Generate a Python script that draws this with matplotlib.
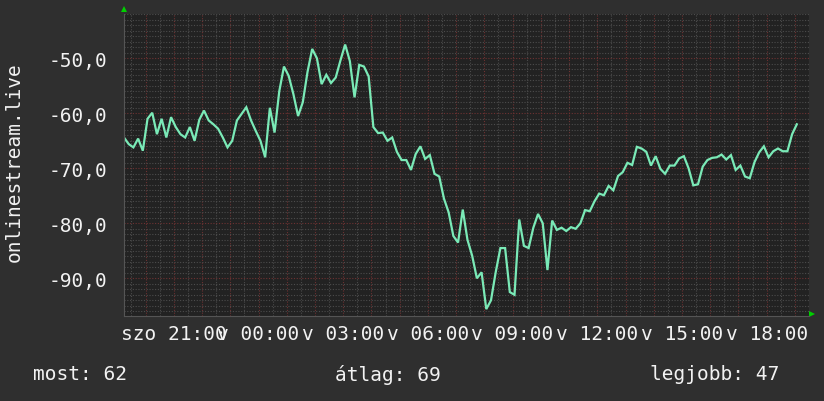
import matplotlib
matplotlib.use("Agg")
import matplotlib.pyplot as plt
import numpy as np

# ---- data ----
start_hour = 19.235          # 19:14 Saturday (hours since Saturday 00:00)
step_minutes = 10
values = [
    -64.4, -65.6, -66.2, -64.6, -66.8, -61.0, -59.9, -63.8, -61.0, -64.4,
    -60.7, -62.5, -63.8, -64.4, -62.5, -65.0, -61.2, -59.5, -61.3, -62.0,
    -62.8, -64.4, -66.2, -65.0, -61.3, -60.1, -58.9, -61.3, -63.2, -65.0,
    -68.0, -59.0, -63.5, -56.0, -51.5, -53.2, -56.5, -60.5, -58.0, -52.5,
    -48.3, -50.0, -54.7, -53.0, -54.5, -53.5, -50.4, -47.5, -50.5, -57.1,
    -51.2, -51.5, -53.3, -62.5, -63.6, -63.5, -65.0, -64.4, -67.0, -68.5,
    -68.5, -70.3, -67.4, -66.0, -68.3, -67.6, -71.0, -71.5, -75.5, -78.0,
    -82.3, -83.5, -77.5, -83.0, -85.9, -90.0, -88.9, -95.6, -94.0, -88.9,
    -84.5, -84.5, -92.5, -93.0, -79.3, -84.1, -84.5, -80.8, -78.3, -80.0,
    -88.5, -79.5, -81.2, -80.8, -81.4, -80.7, -81.0, -80.0, -77.6, -77.8,
    -76.0, -74.6, -74.9, -73.2, -74.0, -71.4, -70.7, -69.0, -69.4, -66.1,
    -66.4, -67.0, -69.5, -67.8, -70.1, -71.0, -69.5, -69.5, -68.2, -67.8,
    -70.0, -73.1, -72.9, -69.7, -68.5, -68.1, -68.0, -67.5, -68.4, -67.6,
    -70.3, -69.5, -71.5, -71.8, -68.9, -67.1, -66.0, -68.0, -66.9, -66.4,
    -66.9, -66.9, -63.8, -62.0,
]
x_label_hours = [21, 24, 27, 30, 33, 36, 39, 42]
x_labels = ["szo 21:00", "v 00:00", "v 03:00", "v 06:00", "v 09:00",
            "v 12:00", "v 15:00", "v 18:00"]
y_ticks = [-90, -80, -70, -60, -50]
y_title = "onlinestream.live"
legend_texts = ["most: 62", "átlag: 69", "legjobb: 47"]

# ---- style ----
FIG_BG = "#2f2f2f"
AX_BG = "#222222"
LINE_C = "#7aeab7"
TXT_C = "#f2f2f2"
MAJ_C = "#6e3232"
MIN_C = "#4c4c4c"
FONT = "DejaVu Sans Mono"
FS = 14

t = start_hour + np.arange(len(values)) * step_minutes / 60.0

fig = plt.figure(figsize=(8.24, 4.02), dpi=100, facecolor=FIG_BG)
W, H = 824, 402
L, R, T, B = 124, 809, 15, 316.5
ax = fig.add_axes([L / W, 1 - B / H, (R - L) / W, (B - T) / H])
ax.set_facecolor(AX_BG)

ax.set_xlim(start_hour, start_hour + 24)
ax.set_ylim(-96.76, -41.95)

# grid
hours = np.arange(20, 44)
half = np.arange(19.5, 43.6, 1.0)
ax.set_xticks(hours)
ax.set_xticks(half, minor=True)
ax.set_yticks(y_ticks)
ax.set_yticks(np.arange(-96, -41, 1), minor=True)
ax.grid(which="major", color=MAJ_C, linestyle=(0, (1, 1.5)), linewidth=0.8)
ax.grid(which="minor", color=MIN_C, linestyle=(0, (1, 1.5)), linewidth=0.8)
ax.set_axisbelow(True)

lbl = {h: s for h, s in zip(x_label_hours, x_labels)}
ax.set_xticklabels([lbl.get(int(h), "") for h in hours])
ax.set_yticklabels([f"{v:.1f}".replace(".", ",") for v in y_ticks])
ax.tick_params(which="both", length=0)
ax.tick_params(axis="x", pad=6, colors=TXT_C, labelsize=FS)
ax.tick_params(axis="y", pad=12, colors=TXT_C, labelsize=FS)
for lab in ax.get_xticklabels() + ax.get_yticklabels():
    lab.set_fontfamily(FONT)

for s in ["top", "right"]:
    ax.spines[s].set_visible(False)
for s in ["left", "bottom"]:
    ax.spines[s].set_color("#555555")
    ax.spines[s].set_linewidth(0.8)

ax.plot(t, values, color=LINE_C, linewidth=1.6, solid_joinstyle="miter")

# arrows
ax.plot([0], [1.015], marker="^", color="#00d000", markersize=5,
        transform=ax.transAxes, clip_on=False, markeredgewidth=0)
ax.plot([1.005], [0.006], marker=">", color="#00d000", markersize=5,
        transform=ax.transAxes, clip_on=False, markeredgewidth=0)

fig.text(14 / W, 1 - 162 / H, y_title, rotation=90, color=TXT_C,
         fontsize=FS, family=FONT, ha="center", va="center")

for xs, txt in zip([33, 335, 650], legend_texts):
    fig.text(xs / W, 1 - 375 / H, txt, color=TXT_C, fontsize=FS,
             family=FONT, ha="left", va="center")

fig.savefig("out.png", dpi=100, facecolor=FIG_BG)
